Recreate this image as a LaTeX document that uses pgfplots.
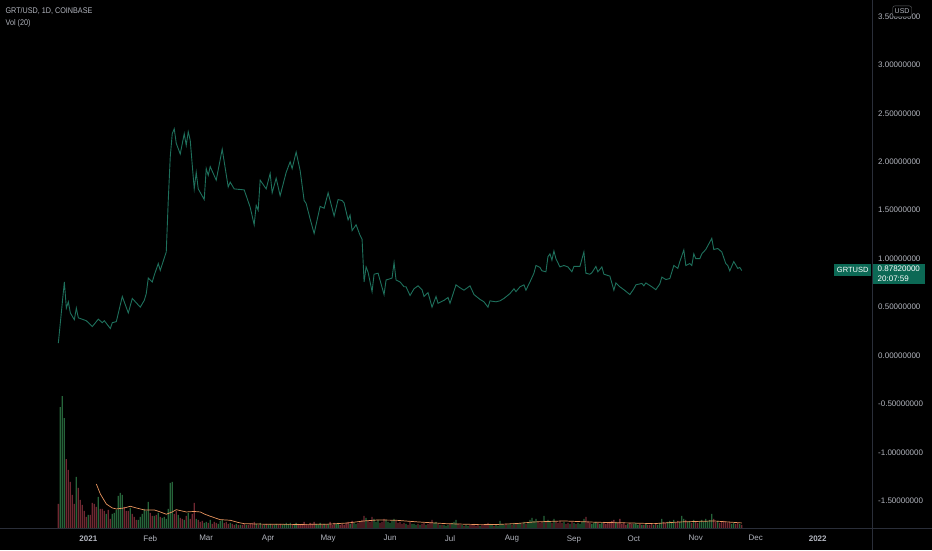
\documentclass[border=0pt]{standalone}
\usepackage{fontspec}
\setmainfont{Liberation Sans}
\newfontfamily\narrowfont[FakeStretch=0.88]{Liberation Sans}
\usepackage{pgfplots}
\pgfplotsset{compat=1.18}

\definecolor{bg}{RGB}{0,0,0}
\definecolor{txt}{RGB}{178,181,190}
\definecolor{sep}{RGB}{42,46,57}
\definecolor{pricec}{RGB}{30,112,92}
\definecolor{boxc}{RGB}{12,105,85}
\definecolor{volg}{RGB}{38,100,58}
\definecolor{volr}{RGB}{112,40,50}
\definecolor{mac}{RGB}{235,150,95}

% x = days since 2021-01-01, y = close (USD)
\pgfplotstableread{
d p
-15 0.13
-12 0.76
-11 0.49
-10 0.555
-9 0.44
-7 0.37
-6 0.49
-5 0.39
-1 0.36
2 0.30
5 0.376
7 0.34
8 0.36
11 0.28
12 0.34
14 0.35
17 0.61
20 0.44
22 0.59
24 0.545
26 0.50
28 0.57
29 0.64
30 0.80
32 0.76
33 0.83
35 0.95
36 0.88
39 1.07
40 1.60
41 2.05
42 2.29
43 2.34
44 2.19
46 2.08
48 2.29
49 2.17
50 2.31
51 2.22
53 1.72
54 1.89
55 1.72
58 1.61
59 1.93
60 1.86
61 1.95
64 1.81
67 2.13
70 1.74
71 1.79
73 1.72
78 1.71
81 1.53
83 1.35
84 1.55
85 1.50
86 1.81
89 1.72
91 1.88
92 1.68
94 1.83
96 1.65
99 1.89
101 2.00
102 1.93
104 2.10
106 1.91
108 1.60
109 1.57
111 1.41
113 1.26
116 1.54
118 1.52
120 1.68
123 1.44
125 1.61
127 1.60
128 1.575
130 1.40
131 1.45
132 1.29
134 1.35
136 1.24
137 1.20
138 0.76
139 0.915
140 0.86
142 0.66
143 0.84
145 0.85
148 0.63
149 0.78
152 0.80
153 0.96
154 0.78
156 0.76
158 0.71
159 0.71
161 0.62
163 0.69
165 0.72
167 0.68
168 0.61
170 0.65
172 0.50
174 0.61
175 0.54
178 0.57
180 0.60
181 0.54
184 0.73
186 0.70
188 0.675
191 0.72
193 0.63
196 0.58
198 0.555
200 0.50
201 0.565
204 0.555
206 0.565
208 0.59
211 0.64
213 0.69
214 0.66
216 0.71
218 0.73
219 0.675
221 0.76
223 0.85
224 0.93
226 0.91
227 0.875
229 0.865
230 1.02
231 1.05
232 0.985
233 1.08
234 1.00
236 0.915
238 0.93
240 0.915
242 0.865
243 0.92
246 0.92
248 1.07
249 0.85
251 0.84
252 0.855
254 0.92
255 0.865
257 0.915
258 0.84
261 0.82
263 0.675
264 0.75
266 0.71
268 0.68
271 0.63
273 0.69
274 0.73
277 0.745
278 0.72
279 0.75
282 0.71
284 0.68
286 0.74
287 0.81
289 0.785
291 0.795
293 0.93
295 0.90
296 0.97
298 1.09
299 0.93
301 0.95
302 0.93
303 1.05
304 1.00
306 1.00
307 1.05
309 1.095
312 1.21
313 1.095
315 1.105
317 1.07
319 0.95
320 0.93
321 0.875
323 0.97
325 0.90
326 0.91
327 0.878
}\price

\begin{document}
\begin{tikzpicture}
\fill[bg] (0,0) rectangle (932pt,550pt);

\begin{axis}[
  at={(0pt,22pt)}, anchor=south west,
  scale only axis, width=873pt, height=528pt,
  xmin=-44, xmax=392.5, ymin=-1.778, ymax=3.665,
  axis line style={draw=none},
  major tick length=0pt,
  xtick={0,31,59,90,120,151,181,212,243,273,304,334,365},
  xticklabels={\textbf{2021},Feb,Mar,Apr,May,Jun,Jul,Aug,Sep,Oct,Nov,Dec,\textbf{2022}},
  ytick={-1.5,-1,...,3.5},
  yticklabels={-1.50000000,-1.00000000,-0.50000000,0.00000000,0.50000000,1.00000000,1.50000000,2.00000000,2.50000000,3.00000000,3.50000000},
  yticklabel pos=right,
  tick label style={font=\fontsize{8}{9}\selectfont, text=txt},
  yticklabel style={anchor=west, xshift=2pt},
  xticklabel style={yshift=-4pt},
]
\addplot[pricec, line width=0.9pt] table[x=d, y=p] {\price};
\end{axis}

\begin{axis}[
  at={(0pt,22pt)}, anchor=south west,
  scale only axis, width=873pt, height=528pt,
  xmin=-44, xmax=392.5, ymin=0, ymax=528,
  hide axis,
]
% volume, up days
\addplot[ybar, bar width=1.3pt, bar shift=0pt, fill=volg, draw=none] coordinates {
(-14,121)(-13,132)(-12,110)(-6,51)(0,13)(5,31)(9,14)(12,14)(13,15)(14,18)(15,32)(16,35)(17,33)(21,20)(25,8)(26,11)(27,14)(28,19)(29,17)(30,26)(33,12)(35,15)(37,10)(38,11)(39,9)(40,19)(41,45)(42,46)(45,13)(48,8)(50,15)(54,9)(58,5)(59,6)(61,8)(65,4)(66,7)(67,8)(71,5)(74,4)(76,3)(79,3)(84,4)(86,5)(88,3)(90,3)(91,4)(93,3)(94,4)(97,3)(98,4)(99,5)(100,4)(101,5)(103,4)(104,5)(114,4)(115,3)(116,5)(118,4)(120,4)(124,4)(125,5)(131,4)(133,5)(134,4)(139,10)(143,9)(144,6)(145,8)(149,8)(150,6)(151,5)(152,7)(153,9)(159,4)(162,4)(163,4)(164,3)(166,3)(169,3)(173,5)(174,6)(176,3)(178,3)(179,2)(180,3)(182,5)(183,6)(184,8)(187,3)(189,3)(190,2)(196,2)(201,4)(202,3)(204,3)(205,2)(206,7)(207,4)(208,3)(210,3)(211,4)(213,5)(215,4)(216,5)(218,6)(220,5)(221,8)(222,10)(223,7)(224,9)(228,12)(230,8)(231,7)(233,9)(238,6)(241,4)(243,5)(245,5)(246,4)(247,6)(248,9)(252,4)(253,5)(254,6)(256,4)(257,5)(264,6)(270,4)(273,4)(274,5)(275,3)(277,3)(279,4)(283,3)(285,3)(286,5)(287,9)(290,6)(291,7)(292,6)(293,8)(296,6)(297,12)(298,9)(300,6)(301,7)(303,8)(306,7)(307,8)(308,6)(309,9)(310,7)(311,8)(312,14)(315,7)(322,4)(323,5)(326,4)
};
% volume, down days
\addplot[ybar, bar width=1.3pt, bar shift=0pt, fill=volr, draw=none] coordinates {
(-15,24)(-11,69)(-10,58)(-9,46)(-8,33)(-7,24)(-5,40)(-4,28)(-3,23)(-2,17)(-1,11)(1,13)(2,25)(3,24)(4,21)(6,19)(7,19)(8,17)(10,18)(11,9)(18,21)(19,17)(20,17)(22,14)(23,11)(24,8)(31,15)(32,12)(34,13)(36,11)(43,14)(44,17)(46,10)(47,9)(49,12)(51,9)(52,14)(53,25)(55,8)(56,6)(57,7)(60,5)(62,4)(63,6)(64,5)(68,5)(69,6)(70,4)(72,4)(73,3)(75,3)(77,3)(78,4)(80,3)(81,4)(82,5)(83,6)(85,3)(87,3)(89,4)(92,3)(95,3)(96,4)(102,3)(105,4)(106,3)(107,4)(108,6)(109,4)(110,3)(111,5)(112,4)(113,6)(117,3)(119,3)(121,6)(122,3)(123,5)(126,3)(127,4)(128,3)(129,5)(130,6)(132,7)(135,5)(136,6)(137,8)(138,12)(140,7)(141,6)(142,11)(146,5)(147,6)(148,9)(154,7)(155,5)(156,6)(157,4)(158,5)(160,3)(161,6)(165,4)(167,4)(168,5)(170,4)(171,6)(172,8)(175,4)(177,3)(181,4)(185,4)(186,3)(188,2)(191,3)(192,3)(193,4)(194,2)(195,3)(197,3)(198,3)(199,4)(200,5)(203,2)(209,4)(212,3)(214,4)(217,4)(219,4)(225,6)(226,5)(227,6)(229,6)(232,5)(234,6)(235,5)(236,7)(237,5)(239,4)(240,5)(242,6)(244,4)(249,11)(250,7)(251,5)(255,5)(258,6)(259,4)(260,5)(261,6)(262,7)(263,8)(265,5)(266,9)(267,4)(268,5)(269,3)(271,5)(272,4)(276,4)(278,3)(280,3)(281,3)(282,4)(284,4)(288,6)(289,5)(294,5)(295,7)(299,8)(302,5)(304,6)(305,5)(313,9)(314,6)(316,5)(317,6)(318,7)(319,6)(320,5)(321,6)(324,4)(325,5)(327,3)
};
% 20-day average of volume
\addplot[mac, line width=0.7pt] coordinates {
(4,44)(6,34)(9,24)(12,20)(14,19)(18,20)(21,21.7)(24,20)(28,18)(33,18)(36,16)(39,13.7)(42,16)(44,18.3)(49,16)(53,16.5)(56,16)(58,14)(61,11.7)(66,8.3)(71,7.7)(75,5.5)(78,4.3)(89,3.7)(106,3.5)(120,3.8)(130,5)(138,7)(145,8)(154,7.7)(165,6)(179,4.3)(196,3.3)(205,3.5)(215,4.5)(223,6)(238,7)(254,5.7)(271,5)(283,4.3)(296,6)(313,7)(327,5)
};
\end{axis}

\draw[sep, line width=0.8pt] (873pt,0pt) -- (873pt,550pt);
\draw[sep, line width=0.8pt] (0pt,22pt) -- (932pt,22pt);

\node[anchor=west, text=txt, font=\narrowfont\fontsize{8.2}{9}\selectfont, inner sep=0pt] at (5pt,539pt) {GRT/USD, 1D, COINBASE};
\node[anchor=west, text=txt, font=\narrowfont\fontsize{8.2}{9}\selectfont, inner sep=0pt] at (5pt,527pt) {Vol (20)};

\node[draw=txt!55!black, fill=bg, text=txt, rounded corners=2pt, font=\fontsize{7}{8}\selectfont, inner xsep=2pt, inner ysep=0pt, minimum height=11pt] at (902.5pt,539pt) {USD};

\node[anchor=north east, fill=boxc, text=white, font=\fontsize{7.5}{8}\selectfont, minimum height=12pt, inner xsep=3pt, inner ysep=0pt] at (872pt,286pt) {GRTUSD};
\node[anchor=north west, fill=boxc, text=white, font=\fontsize{8}{10}\selectfont, align=left, minimum width=52pt, inner xsep=4.5pt, inner ysep=2pt] at (873pt,286pt) {0.87820000\\20:07:59};
\end{tikzpicture}
\end{document}
